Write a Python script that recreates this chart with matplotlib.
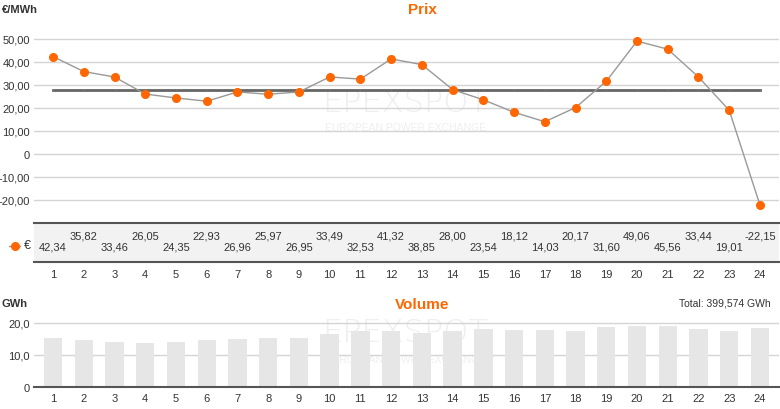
import matplotlib
matplotlib.use("Agg")
import matplotlib.pyplot as plt

plt.rcParams['font.family'] = ['Liberation Sans', 'DejaVu Sans']

hours = list(range(1, 25))
prices = [42.34, 35.82, 33.46, 26.05, 24.35, 22.93, 26.96, 25.97, 26.95, 33.49, 32.53, 41.32,
          38.85, 28.00, 23.54, 18.12, 14.03, 20.17, 31.60, 49.06, 45.56, 33.44, 19.01, -22.15]
price_labels = ["42,34", "35,82", "33,46", "26,05", "24,35", "22,93", "26,96", "25,97", "26,95",
                "33,49", "32,53", "41,32", "38,85", "28,00", "23,54", "18,12", "14,03", "20,17",
                "31,60", "49,06", "45,56", "33,44", "19,01", "-22,15"]
baseload = 27.98
volumes = [15.3, 14.7, 14.2, 13.6, 14.2, 14.8, 15.0, 15.4, 15.3, 16.5, 17.4, 17.6,
           17.0, 17.6, 18.1, 17.7, 17.7, 17.6, 18.9, 19.0, 19.0, 18.1, 17.4, 18.3]
price_ticks = [-20, -10, 0, 10, 20, 30, 40, 50]
price_tick_labels = ["-20,00", "-10,00", "0", "10,00", "20,00", "30,00", "40,00", "50,00"]
vol_ticks = [0, 10, 20]
vol_tick_labels = ["0", "10,0", "20,0"]
total_text = "Total: 399,574 GWh"

W, H = 780, 410
ORANGE = "#ff6600"
TXT = "#333333"
GRID = "#d4d4d4"
WM = "#efefef"
fig = plt.figure(figsize=(W / 100, H / 100), dpi=100)

def fx(px):
    return px / W

def fy(py):
    return 1 - py / H

xl = (0.38, 24.62)

# ---- Price chart ----
ax1 = fig.add_axes([fx(34), fy(224), fx(745), 202 / H])
ax1.set_xlim(*xl)
ax1.set_ylim(-30, 57.8)
ax1.set_yticks(price_ticks)
ax1.set_yticklabels(price_tick_labels)
ax1.tick_params(axis='y', length=0, pad=3, labelsize=8, labelcolor=TXT)
ax1.set_xticks([])
for s in ax1.spines.values():
    s.set_visible(False)
ax1.grid(axis='y', color=GRID, lw=1)
ax1.set_axisbelow(True)
ax1.text(0.498, 0.60, "EPEXSPOT", transform=ax1.transAxes, ha='center', va='center',
         fontsize=23, color=WM, family='DejaVu Sans', fontweight='light', zorder=0)
ax1.text(0.498, 0.475, "EUROPEAN POWER EXCHANGE", transform=ax1.transAxes, ha='center', va='center',
         fontsize=7.5, color=WM, zorder=0)
ax1.plot([hours[0], hours[-1]], [baseload, baseload], color="#666666", lw=2, zorder=2)
ax1.plot(hours, [baseload] * len(hours), ls='none', marker='|', ms=2, mew=1, color="#777777", zorder=2)
ax1.plot(hours, prices, color="#999999", lw=1, marker='o', ms=5.5, mfc=ORANGE, mec=ORANGE, zorder=3)

# ---- Value table band ----
axt = fig.add_axes([fx(34), fy(263), fx(745), 39 / H])
axt.set_xlim(*xl)
axt.set_ylim(0, 1)
axt.set_facecolor("#f2f2f2")
for k in ('left', 'right'):
    axt.spines[k].set_visible(False)
for k in ('top', 'bottom'):
    axt.spines[k].set_color("#555555")
    axt.spines[k].set_linewidth(1.5)
axt.set_yticks([])
axt.set_xticks(hours)
axt.set_xticklabels([str(h) for h in hours])
axt.tick_params(axis='x', length=0, pad=5, labelsize=8, labelcolor=TXT)
for h, lab in zip(hours, price_labels):
    yy = 0.667 if h % 2 == 0 else 0.41
    axt.text(h, yy, lab, ha='center', va='center', fontsize=8, color=TXT)
# legend
fig.add_artist(plt.Line2D([fx(9), fx(20)], [fy(247), fy(247)], color="#999999", lw=1))
fig.add_artist(plt.Line2D([fx(14.5)], [fy(247)], marker='o', ms=5.5, color=ORANGE, ls='none'))
fig.text(fx(24), fy(246), "€", ha='left', va='center', fontsize=9, color=TXT)

# ---- Volume chart ----
ax2 = fig.add_axes([fx(34), fy(388), fx(745), 76 / H])
ax2.set_xlim(*xl)
ax2.set_ylim(0, 23.75)
ax2.set_yticks(vol_ticks)
ax2.set_yticklabels(vol_tick_labels)
ax2.tick_params(axis='y', length=0, pad=3, labelsize=8, labelcolor=TXT)
ax2.set_xticks(hours)
ax2.set_xticklabels([str(h) for h in hours])
ax2.tick_params(axis='x', length=0, pad=4, labelsize=8, labelcolor=TXT)
for k in ('left', 'right', 'top'):
    ax2.spines[k].set_visible(False)
ax2.spines['bottom'].set_color("#555555")
ax2.spines['bottom'].set_linewidth(1.5)
ax2.grid(axis='y', color=GRID, lw=1)
ax2.set_axisbelow(True)
ax2.text(0.498, 0.72, "EPEXSPOT", transform=ax2.transAxes, ha='center', va='center',
         fontsize=23, color=WM, family='DejaVu Sans', fontweight='light', zorder=0)
ax2.text(0.498, 0.37, "EUROPEAN POWER EXCHANGE", transform=ax2.transAxes, ha='center', va='center',
         fontsize=7.5, color=WM, zorder=0)
ax2.bar(hours, volumes, width=0.6, color="#e6e6e6", zorder=1)

# ---- Titles ----
fig.text(fx(422), fy(10), "Prix", ha='center', va='center', fontsize=11, fontweight='bold', color=ORANGE)
fig.text(fx(2), fy(10), "€/MWh", ha='left', va='center', fontsize=8, fontweight='bold', color=TXT)
fig.text(fx(422), fy(305), "Volume", ha='center', va='center', fontsize=11, fontweight='bold', color=ORANGE)
fig.text(fx(2), fy(304), "GWh", ha='left', va='center', fontsize=8, fontweight='bold', color=TXT)
fig.text(fx(771), fy(304), total_text, ha='right', va='center', fontsize=7.5, color=TXT)

fig.savefig("out.png", dpi=100, facecolor='white')
